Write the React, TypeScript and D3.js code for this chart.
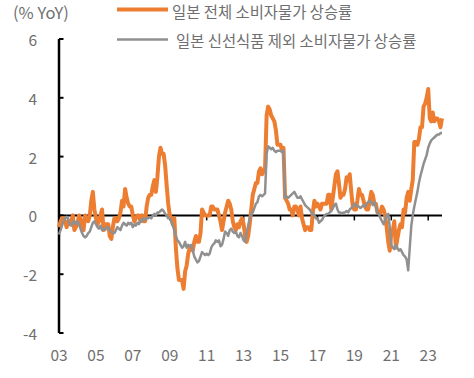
import React from "react";
import * as d3 from "d3";

const yTicks = [6, 4, 2, 0, -2, -4];
const xTickYears = [2003, 2005, 2007, 2009, 2011, 2013, 2015, 2017, 2019, 2021, 2023];
const xTickLabels = ["03", "05", "07", "09", "11", "13", "15", "17", "19", "21", "23"];
const seriesNames = ["일본 전체 소비자물가 상승률", "일본 신선식품 제외 소비자물가 상승률"];
const unitLabel = "(% YoY)";

// Monthly, Jan 2003 .. Oct 2023
const headline = [
  -0.4, -0.2, -0.1, -0.1, -0.2, -0.4, -0.2, -0.3, -0.2, 0.0, -0.5, -0.4,
  -0.3, 0.0, -0.1, -0.4, -0.5, 0.0, -0.1, -0.2, 0.0, 0.5, 0.8, 0.2,
  -0.1, -0.3, -0.2, 0.0, 0.2, -0.5, -0.3, -0.3, -0.3, -0.7, -0.8, -0.4,
  -0.1, -0.1, -0.2, -0.1, 0.1, 0.5, 0.3, 0.9, 0.6, 0.4, 0.3, 0.3,
  0.0, -0.2, -0.1, 0.0, 0.0, -0.2, 0.0, -0.2, -0.2, 0.3, 0.6, 0.7,
  0.7, 1.0, 1.2, 0.8, 1.3, 2.0, 2.3, 2.1, 2.1, 1.7, 1.0, 0.4,
  0.0, -0.1, -0.3, -0.1, -1.1, -1.8, -2.2, -2.2, -2.2, -2.5, -1.9, -1.7,
  -1.3, -1.1, -1.1, -1.2, -0.9, -0.7, -0.9, -0.9, -0.6, 0.2, 0.1, 0.0,
  0.0, 0.0, 0.0, 0.3, 0.3, 0.2, 0.2, 0.2, 0.0, -0.2, -0.5, -0.2,
  0.1, 0.3, 0.5, 0.4, 0.2, -0.2, -0.4, -0.5, -0.3, -0.4, -0.2, -0.1,
  -0.3, -0.7, -0.9, -0.7, -0.3, 0.2, 0.7, 0.9, 1.1, 1.1, 1.5, 1.6,
  1.4, 1.5, 1.6, 3.4, 3.7, 3.6, 3.4, 3.3, 3.2, 2.9, 2.4, 2.4,
  2.4, 2.2, 2.3, 0.6, 0.5, 0.4, 0.2, 0.2, 0.0, 0.3, 0.3, 0.2,
  0.0, 0.3, -0.1, -0.3, -0.5, -0.4, -0.4, -0.5, -0.5, 0.1, 0.5, 0.3,
  0.4, 0.3, 0.2, 0.4, 0.4, 0.4, 0.4, 0.7, 0.7, 0.2, 0.6, 1.0,
  1.4, 1.5, 1.1, 0.6, 0.7, 0.7, 0.9, 1.3, 1.2, 1.4, 0.8, 0.3,
  0.2, 0.2, 0.5, 0.9, 0.7, 0.7, 0.5, 0.3, 0.2, 0.2, 0.5, 0.8,
  0.7, 0.4, 0.4, 0.1, 0.1, 0.1, 0.3, 0.2, 0.0, -0.4, -0.9, -1.2,
  -0.6, -0.5, -0.2, -1.1, -0.8, -0.5, -0.3, -0.4, 0.2, 0.1, 0.6, 0.8,
  0.5, 0.9, 1.2, 2.5, 2.5, 2.4, 2.6, 3.0, 3.0, 3.7, 3.8, 4.0,
  4.3, 3.3, 3.2, 3.5, 3.2, 3.3, 3.3, 3.2, 3.0, 3.3,
];

const core = [
  -0.65, -0.5, -0.35, -0.2, -0.1, -0.05, -0.1, -0.3, -0.35, -0.25, -0.2, -0.3,
  -0.2, -0.3, -0.45, -0.6, -0.7, -0.75, -0.7, -0.6, -0.55, -0.4, -0.25, -0.2,
  -0.3, -0.4, -0.45, -0.35, -0.5, -0.45, -0.5, -0.4, -0.4, -0.5, -0.55, -0.6,
  -0.6, -0.5, -0.4, -0.45, -0.5, -0.35, -0.25, -0.3, -0.35, -0.25, -0.3, -0.25,
  -0.4, -0.3, -0.35, -0.25, -0.3, -0.15, -0.2, -0.1, -0.15, -0.1, -0.1, -0.05,
  -0.1, 0.0, 0.05, 0.0, 0.1, 0.1, 0.15, 0.2, 0.15, 0.05, 0.0, -0.1,
  -0.1, -0.2, -0.35, -0.5, -0.7, -0.85, -0.9, -1.0, -1.1, -1.05, -0.9, -1.1,
  -1.0, -1.05, -1.0, -1.2, -1.4, -1.5, -1.6, -1.55, -1.4, -1.25, -1.3, -1.35,
  -1.3, -1.35, -1.3, -1.1, -1.0, -0.95, -0.85, -0.9, -0.85, -1.05, -1.0, -0.8,
  -0.55, -0.6, -0.7, -0.5, -0.45, -0.55, -0.6, -0.55, -0.7, -0.75, -0.6, -0.7,
  -0.85, -0.9, -0.6, -0.35, -0.1, 0.05, 0.1, 0.25, 0.4, 0.45, 0.65, 0.7,
  0.65, 0.7, 0.75, 2.1, 2.35, 2.3, 2.25, 2.3, 2.2, 2.15, 2.2, 2.2,
  2.2, 2.15, 2.2, 0.6, 0.65, 0.6, 0.65, 0.7, 0.75, 0.8, 0.7, 0.6,
  0.6, 0.65, 0.55, 0.45, 0.35, 0.3, 0.25, 0.2, 0.1, 0.05, 0.0, -0.1,
  -0.1, -0.25, -0.2, -0.15, -0.05, 0.0, 0.05, 0.05, 0.1, 0.15, 0.25, 0.35,
  0.4, 0.2, 0.1, 0.1, 0.05, 0.1, 0.1, 0.15, 0.1, 0.2, 0.25, 0.3,
  0.4, 0.35, 0.3, 0.3, 0.25, 0.3, 0.35, 0.3, 0.4, 0.45, 0.5, 0.45,
  0.35, 0.45, 0.3, 0.1, 0.05, -0.1, -0.2, -0.3, -0.15, 0.0, 0.05, -0.4,
  -1.0, -1.1, -1.15, -1.0, -1.1, -1.2, -1.15, -1.25, -1.35, -1.4, -1.5, -1.87,
  -1.1, -0.35, 0.0, 0.3, 0.55, 0.8, 1.1, 1.35, 1.55, 1.75, 1.9, 2.05,
  2.3, 2.45, 2.55, 2.6, 2.65, 2.7, 2.75, 2.75, 2.8, 2.8,
];

const W = 474;
const H = 378;
const ORANGE = "#ED7D31";
const GRAY = "#909090";
const TEXT = "#6f6f6f";
const FONT = "'Noto Sans CJK KR', 'Noto Sans', sans-serif";

export default function App() {
  const start = new Date(2003, 0, 1);
  const dates = headline.map((_, i) => d3.timeMonth.offset(start, i));
  const x = d3
    .scaleTime()
    .domain([start, dates[dates.length - 1]])
    .range([59, 442]);
  const y = d3.scaleLinear().domain([-4, 6]).range([333, 39]);

  const line = d3
    .line<number>()
    .x((_, i) => x(dates[i]))
    .y((d) => y(d));

  const x0 = x(start);
  const xEnd = x(dates[dates.length - 1]);

  return (
    <svg
      width={W}
      height={H}
      style={{ position: "absolute", left: 0, top: 0, background: "#fff" }}
      fontFamily={FONT}
    >
      {/* legend */}
      <text x={13} y={12} fontSize={16.5} fill={TEXT} dominantBaseline="central">
        {unitLabel}
      </text>
      <line x1={117} x2={168} y1={9.5} y2={9.5} stroke={ORANGE} strokeWidth={4} />
      <text x={172} y={10.5} fontSize={15.4} fill={TEXT} dominantBaseline="central">
        {seriesNames[0]}
      </text>
      <line x1={117} x2={168} y1={39.5} y2={39.5} stroke={GRAY} strokeWidth={2.5} />
      <text x={176} y={39.5} fontSize={15.4} fill={TEXT} dominantBaseline="central">
        {seriesNames[1]}
      </text>

      {/* y axis */}
      <line x1={x0} x2={x0} y1={y(6)} y2={y(-4)} stroke="#000" strokeWidth={2.5} />
      {yTicks.map((t) => (
        <g key={t}>
          <line x1={x0} x2={x0 + 4.5} y1={y(t)} y2={y(t)} stroke="#000" strokeWidth={2} />
          <text
            x={37}
            y={y(t)}
            fontSize={15.5}
            fill={TEXT}
            textAnchor="end"
            dominantBaseline="central"
          >
            {t}
          </text>
        </g>
      ))}

      {/* zero line with ticks */}
      <line x1={x0} x2={xEnd} y1={y(0)} y2={y(0)} stroke="#000" strokeWidth={2} />
      {xTickYears.map((yr, i) => {
        const px = x(new Date(yr, 0, 1));
        return (
          <g key={yr}>
            <line x1={px} x2={px} y1={y(0)} y2={y(0) + 5} stroke="#000" strokeWidth={1.5} />
            <text
              x={px}
              y={354}
              fontSize={15.5}
              fill={TEXT}
              textAnchor="middle"
              dominantBaseline="central"
            >
              {xTickLabels[i]}
            </text>
          </g>
        );
      })}

      {/* series */}
      <path
        d={line(headline) || ""}
        fill="none"
        stroke={ORANGE}
        strokeWidth={4}
        strokeLinejoin="round"
      />
      <path
        d={line(core) || ""}
        fill="none"
        stroke={GRAY}
        strokeWidth={2.5}
        strokeLinejoin="round"
      />
    </svg>
  );
}
